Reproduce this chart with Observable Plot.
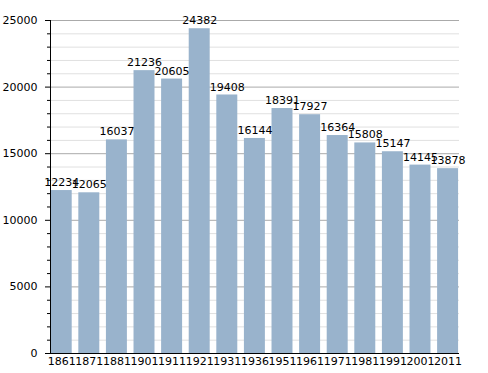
<!DOCTYPE html>
<html><head><meta charset="utf-8">
<script src="https://cdn.jsdelivr.net/npm/d3@7"></script>
<script src="https://cdn.jsdelivr.net/npm/@observablehq/plot@0.6"></script>
<style>body{margin:0;background:#fff}</style>
</head><body><div id="chart"></div>
<script>
const years = ["1861","1871","1881","1901","1911","1921","1931","1936","1951","1961","1971","1981","1991","2001","2011"];
const population = [12234,12065,16037,21236,20605,24382,19408,16144,18391,17927,16364,15808,15147,14145,13878];
const majorTicks = [0,5000,10000,15000,20000,25000];
const minorTicks = d3.range(0,25001,1000);

const data = years.map((y,i)=>({year:y, value:population[i]}));
const minorOnly = minorTicks.filter(v=>v%5000!==0);

const chart = Plot.plot({
  width:488, height:373,
  marginLeft:50, marginRight:29, marginTop:20, marginBottom:20,
  style:{fontFamily:"DejaVu Sans", fontSize:"11px", color:"#000", background:"#fff"},
  x:{domain:years, padding:0.24, round:false, range:[44.1,464.7], label:null},
  y:{domain:[0,25000], label:null},
  marks:[
    Plot.ruleY(minorOnly,{stroke:"#e0e0e0", strokeWidth:1}),
    Plot.ruleY(majorTicks,{stroke:"#aaaaaa", strokeWidth:1}),
    Plot.barY(data,{x:"year", y:"value", fill:"#99b3cc"}),
    Plot.text(data,{x:"year", y:"value", text:d=>String(d.value), dy:-8, fill:"#000", fontSize:11}),
    Plot.axisY(minorOnly,{tickSize:3, text:null, stroke:"#000"}),
    Plot.axisY(majorTicks,{tickSize:5, tickPadding:8, tickFormat:d=>String(d), stroke:"#000", fontSize:11, label:null}),
    Plot.axisX({tickSize:0, tickPadding:4, fontSize:11, label:null}),
    Plot.ruleY([0],{stroke:"#000"}),
    Plot.frame({anchor:"left", stroke:"#000"})
  ]
});
document.getElementById("chart").appendChild(chart);
</script></body></html>
